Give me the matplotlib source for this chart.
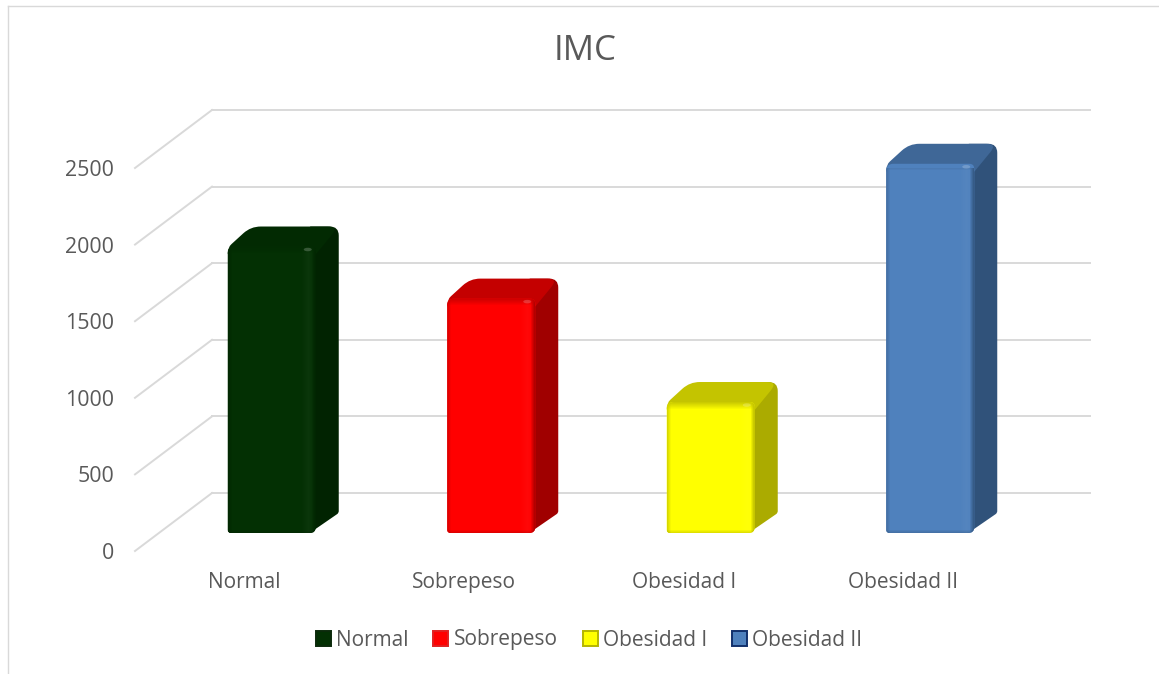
import numpy as np
import matplotlib
matplotlib.use('Agg')
import matplotlib.pyplot as plt
from matplotlib.colors import to_rgb
from matplotlib.lines import Line2D
from matplotlib.patches import Ellipse, Patch, PathPatch
from matplotlib.path import Path
from matplotlib.transforms import Affine2D, IdentityTransform

# -------------------------------
# data
# -------------------------------
categories = ['Normal', 'Sobrepeso', 'Obesidad I', 'Obesidad II']
values = [1870, 1530, 855, 2410]
y_ticks = [0, 500, 1000, 1500, 2000, 2500]

front_colors = ['#033003', '#FF0000', '#FFFF00', '#4F81BD']
top_colors = ['#022A02', '#C40000', '#C4C400', '#3F6797']
side_colors = ['#012301', '#A00000', '#ABAB00', '#30527A']
legend_edges = ['#0B2A0B', '#E02020', '#B5B500', '#12306B']

TEXT = '#595959'
GRID = '#D9D9D9'
W, H = 1159, 674

# 3d look, all in pixels
WALL_DX, WALL_DY = 77, 58
BAR_DX, BAR_DY = 27, 18
DEPTH_DX, DEPTH_DY = 23, 20
BAR_W = 88

plt.rcParams['font.family'] = ['Open Sans', 'DejaVu Sans']

fig = plt.figure(figsize=(W / 100, H / 100), dpi=100, facecolor='white')
ax = fig.add_axes([135 / W, (H - 551) / H, 878 / W, 383 / H])
ax.set_xlim(-0.5, 3.5)
ax.set_ylim(0, 2500)
ax.patch.set_visible(False)
for s in ax.spines.values():
    s.set_visible(False)


def rounded(points, radii):
    # closed path with a small curve on every corner
    pts = [np.array(p, dtype=float) for p in points]
    verts, codes = [], []
    n = len(pts)
    for i in range(n):
        p, prev, nxt = pts[i], pts[i - 1], pts[(i + 1) % n]
        r = radii[i]
        a = p + (prev - p) / np.linalg.norm(prev - p) * r
        b = p + (nxt - p) / np.linalg.norm(nxt - p) * r
        verts.append(a)
        codes.append(Path.MOVETO if i == 0 else Path.LINETO)
        verts += [p, b]
        codes += [Path.CURVE3, Path.CURVE3]
    verts.append(verts[0])
    codes.append(Path.CLOSEPOLY)
    return Path(verts, codes)


def shade(color, m):
    c = np.array(to_rgb(color))
    if m < 1:
        return c * m
    return c + (1 - c) * (m - 1)


def front_image(color, top_color, side_color, w, h):
    # front face lighting: soft dark rim left, faint gloss near the right edge,
    # top and right borders fade into the neighbouring faces
    w, h = int(round(w)), int(round(h))
    img = np.zeros((h, w, 3))
    for col in range(w):
        from_right = w - 1 - col
        m = 1.0
        if col < 4:
            m = 0.85 + 0.04 * col
        elif from_right < 14:
            m = 1.0 + 0.03 * (1 - abs(from_right - 7) / 7)
        img[:, col] = shade(color, m)
        if from_right < 4:
            t = (4 - from_right) / 5
            img[:, col] = img[:, col] * (1 - t) + np.array(to_rgb(side_color)) * t
    for row in range(min(7, h)):
        t = (7 - row) / 8
        img[row] = img[row] * (1 - t) + np.array(to_rgb(top_color)) * t
    for row in range(3):
        img[h - 1 - row] = img[h - 1 - row] * (0.88 + 0.04 * row)
    return img


# -------------------------------
# walls: back grid lines + diagonal floor lines
# -------------------------------
wall = ax.transData + Affine2D().translate(WALL_DX, WALL_DY)
for v in y_ticks:
    ax.plot([-0.5, 3.5], [v, v], color=GRID, lw=1.4, transform=wall, clip_on=False, zorder=1)
    x0, y0 = ax.transData.transform((-0.5, v))
    ax.add_line(Line2D([x0, x0 + WALL_DX], [y0, y0 + WALL_DY], color=GRID, lw=1.4,
                       transform=IdentityTransform(), clip_on=False, zorder=1))

# -------------------------------
# bars
# -------------------------------
for i, v in enumerate(values):
    cx, base = ax.transData.transform((i, 0))
    _, top = ax.transData.transform((i, v))
    left = cx + BAR_DX - BAR_W / 2
    right = left + BAR_W
    bottom = base + BAR_DY
    top = top + BAR_DY
    dx, dy = DEPTH_DX, DEPTH_DY

    # right side
    side = rounded([(right - 6, bottom), (right + dx, bottom + dy), (right + dx, top + dy),
                    (right - 6, top + dy), (right - 6, top)],
                   [1, 2, 9, 1, 1])
    ax.add_patch(PathPatch(side, fc=side_colors[i], ec='none', transform=IdentityTransform(),
                           clip_on=False, zorder=3))
    # top, runs a bit under the front so the rounded corners stay filled
    top_face = rounded([(left, top - 8), (left, top - 1), (left + dx, top + dy),
                        (right + dx, top + dy), (right, top - 8)],
                       [1, 5, 10, 11, 1])
    ax.add_patch(PathPatch(top_face, fc=top_colors[i], ec='none', transform=IdentityTransform(),
                           clip_on=False, zorder=4))
    # front with lighting, clipped to the rounded outline
    front = rounded([(left, bottom), (right, bottom), (right, top), (left, top)], [3, 6, 5, 7])
    clip = PathPatch(front, fc=front_colors[i], ec='none', transform=IdentityTransform(),
                     clip_on=False, zorder=4.5)
    ax.add_patch(clip)
    im = ax.imshow(front_image(front_colors[i], top_colors[i], side_colors[i], BAR_W, top - bottom),
                   aspect='auto', extent=(left, right, bottom, top),
                   transform=IdentityTransform(), zorder=5, interpolation='nearest')
    im.set_clip_path(clip)
    # little highlight on the bevel
    ax.add_patch(Ellipse((right - 8, top - 3), 8, 3.5, fc='white', ec='none', alpha=0.2,
                         transform=IdentityTransform(), clip_on=False, zorder=6))

ax.set_xlim(-0.5, 3.5)
ax.set_ylim(0, 2500)

# -------------------------------
# text
# -------------------------------
ax.set_xticks(range(len(categories)))
ax.set_xticklabels(categories)
ax.set_yticks(y_ticks)
ax.tick_params(axis='x', length=0, pad=15, labelsize=15, labelcolor=TEXT)
ax.tick_params(axis='y', length=0, pad=15, labelsize=15.4, labelcolor=TEXT)

fig.text(585 / W, 1 - 51 / H, 'IMC', ha='center', va='center', fontsize=25, color=TEXT)

handles = [Patch(facecolor=c, edgecolor=e, linewidth=1.4)
           for c, e in zip(front_colors, legend_edges)]
fig.legend(handles, categories, loc='center', bbox_to_anchor=(589 / W, 1 - 640 / H),
           ncol=4, frameon=False, fontsize=15, labelcolor=TEXT, handlelength=0.72,
           handleheight=0.72, handletextpad=0.25, columnspacing=1.2, borderpad=0)

# chart frame, only top and left are visible
fig.add_artist(Line2D([8 / W, 1], [1 - 6 / H, 1 - 6 / H], color=GRID, lw=1))
fig.add_artist(Line2D([8 / W, 8 / W], [0, 1 - 6 / H], color=GRID, lw=1))

plt.savefig('out.png', dpi=100)
